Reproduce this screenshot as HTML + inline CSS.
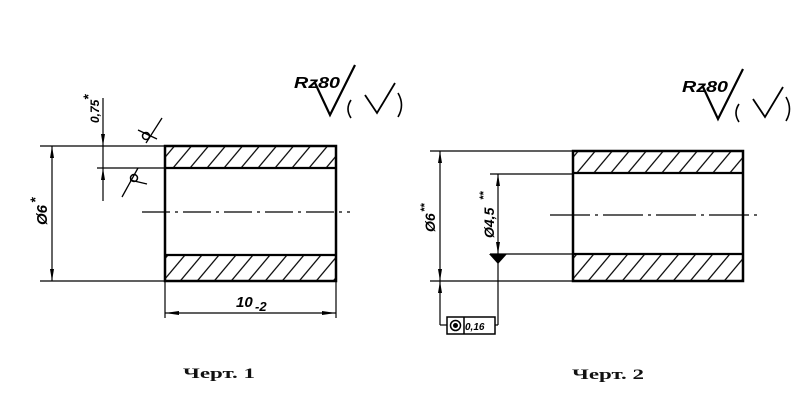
<!DOCTYPE html>
<html><head><meta charset="utf-8"><style>
html,body{margin:0;padding:0;background:#fff;}
svg{display:block;}
</style></head><body>
<svg width="800" height="405" viewBox="0 0 800 405" xmlns="http://www.w3.org/2000/svg" font-family="Liberation Sans, sans-serif">
<defs>
<pattern id="h" width="17" height="40" patternUnits="userSpaceOnUse" patternTransform="skewX(-40)">
<line x1="8" y1="0" x2="8" y2="40" stroke="#000" stroke-width="1.6"/>
</pattern>
<g id="rz">
<path d="M315 83 L330 115 L355 65" stroke-width="2.2" fill="none" stroke="#000"/>
<path d="M351 100 q-6 9 0 18" stroke-width="1.6" fill="none" stroke="#000"/>
<path d="M365 95 L377 113 L395 83" stroke-width="1.8" fill="none" stroke="#000"/>
<path d="M398 93 q7 12 0 24" stroke-width="1.6" fill="none" stroke="#000"/>
<text x="294" y="88" font-size="16" font-style="italic" font-weight="bold" fill="#000" textLength="46" lengthAdjust="spacingAndGlyphs">Rz80</text>
</g>
</defs>
<g stroke="#000" fill="none">
<rect x="165" y="147" width="171" height="21" fill="url(#h)" stroke="none"/>
<rect x="165" y="255" width="171" height="26" fill="url(#h)" stroke="none"/>
<rect x="165" y="146" width="171" height="135" stroke-width="2.5"/>
<line x1="165" y1="168" x2="336" y2="168" stroke-width="2.2"/>
<line x1="165" y1="255" x2="336" y2="255" stroke-width="2.2"/>
<line x1="142" y1="212" x2="350" y2="212" stroke-width="1.2" stroke-dasharray="28,5,3,5"/>
<line x1="40" y1="146" x2="165" y2="146" stroke-width="1.3"/>
<line x1="40" y1="281" x2="165" y2="281" stroke-width="1.3"/>
<line x1="97" y1="168" x2="165" y2="168" stroke-width="1.3"/>
<line x1="52" y1="146" x2="52" y2="281" stroke-width="1.2"/>
<line x1="103" y1="98" x2="103" y2="201" stroke-width="1.2"/>
<line x1="165" y1="281" x2="165" y2="318" stroke-width="1.2"/>
<line x1="336" y1="281" x2="336" y2="318" stroke-width="1.2"/>
<line x1="165" y1="313" x2="336" y2="313" stroke-width="1.2"/>
<line x1="138" y1="130" x2="157" y2="139" stroke-width="1.3"/>
<path d="M146 143 L162 118" stroke-width="1.3"/>
<circle cx="146" cy="136" r="3.5" stroke-width="1.5"/>
<path d="M122 197 L138 168" stroke-width="1.3"/>
<line x1="130" y1="180" x2="147" y2="184" stroke-width="1.3"/>
<circle cx="134" cy="178" r="3.5" stroke-width="1.5"/>
<rect x="573" y="152" width="170" height="21" fill="url(#h)" stroke="none"/>
<rect x="573" y="255" width="170" height="26" fill="url(#h)" stroke="none"/>
<rect x="573" y="151" width="170" height="130" stroke-width="2.5"/>
<line x1="573" y1="173" x2="743" y2="173" stroke-width="2.2"/>
<line x1="573" y1="254" x2="743" y2="254" stroke-width="2.2"/>
<line x1="550" y1="215" x2="757" y2="215" stroke-width="1.2" stroke-dasharray="40,5,3,5"/>
<line x1="430" y1="151" x2="573" y2="151" stroke-width="1.3"/>
<line x1="430" y1="281" x2="573" y2="281" stroke-width="1.3"/>
<line x1="490" y1="174" x2="573" y2="174" stroke-width="1.3"/>
<line x1="490" y1="254" x2="573" y2="254" stroke-width="1.3"/>
<line x1="440" y1="151" x2="440" y2="325" stroke-width="1.2"/>
<line x1="498" y1="174" x2="498" y2="325" stroke-width="1.2"/>
<line x1="440" y1="325" x2="447" y2="325" stroke-width="1.2"/>
<line x1="495" y1="325" x2="498" y2="325" stroke-width="1.2"/>
<rect x="447" y="317" width="48" height="17" stroke-width="1.5"/>
<line x1="464" y1="317" x2="464" y2="334" stroke-width="1.5"/>
<circle cx="455.5" cy="325.5" r="5" stroke-width="1.5"/>
<circle cx="455.5" cy="325.5" r="2.5" fill="#000" stroke="none"/>
</g>
<use href="#rz"/>
<use href="#rz" transform="translate(388,4)"/>
<g fill="#000">
<path d="M52 146 l-2 12 h4z M52 281 l-2 -12 h4z"/>
<path d="M103 146 l-2 -12 h4z M103 168 l-2 12 h4z"/>
<path d="M165 313 l14 -2 v4z M336 313 l-14 -2 v4z"/>
<path d="M440 151 l-2 12 h4z M440 281 l-2 -12 h4z M440 281 l-2 12 h4z"/>
<path d="M498 174 l-2 12 h4z M498 254 l-2 -12 h4z"/>
<path d="M489 254 h18 l-9 10z"/>
</g>
<g font-style="italic" font-weight="bold" fill="#000">
<text transform="translate(99,123) rotate(-90)" font-size="12">0,75</text>
<text transform="translate(93,100) rotate(-90)" font-size="14">*</text>
<text transform="translate(47,225) rotate(-90)" font-size="15">Ø6</text>
<text transform="translate(40,203) rotate(-90)" font-size="14">*</text>
<text x="236" y="307" font-size="15">10</text>
<text x="255" y="311" font-size="13">-2</text>
<text transform="translate(435,232) rotate(-90)" font-size="14">Ø6</text>
<text transform="translate(428,212) rotate(-90)" font-size="11">**</text>
<text transform="translate(494,238) rotate(-90)" font-size="14">Ø4,5</text>
<text transform="translate(487,200) rotate(-90)" font-size="11">**</text>
<text x="465" y="330" font-size="10">0,16</text>
</g>
<g font-family="Liberation Serif, serif" font-weight="bold" font-size="15" fill="#111">
<text x="183" y="378" textLength="72" lengthAdjust="spacingAndGlyphs">Черт. 1</text>
<text x="572" y="379" textLength="72" lengthAdjust="spacingAndGlyphs">Черт. 2</text>
</g>
</svg>
</body></html>
